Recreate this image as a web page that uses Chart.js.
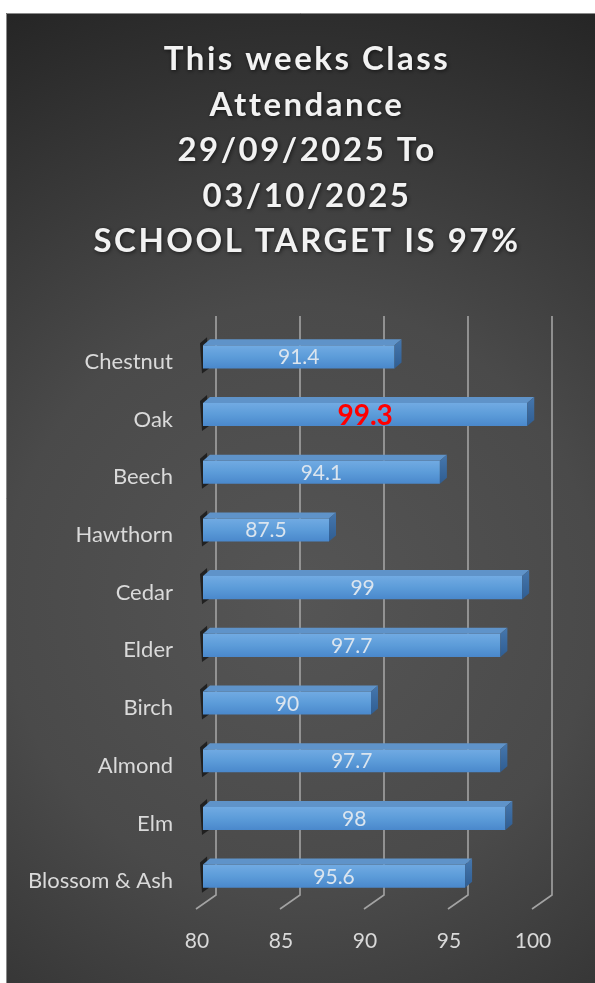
<!DOCTYPE html>
<html>
<head>
<meta charset="utf-8">
<title>Class Attendance</title>
<script src="https://cdn.jsdelivr.net/npm/chart.js@4.4.1/dist/chart.umd.min.js"></script>
<style>
  html, body { margin: 0; padding: 0; background: #ffffff; }
  #wrap { width: 595px; height: 983px; }
</style>
</head>
<body>
<div id="wrap"><canvas id="attendance-chart" width="595" height="983"></canvas></div>
<script>
// Chart data
const classes = ['Chestnut', 'Oak', 'Beech', 'Hawthorn', 'Cedar', 'Elder', 'Birch', 'Almond', 'Elm', 'Blossom & Ash'];
const attendance = [91.4, 99.3, 94.1, 87.5, 99, 97.7, 90, 97.7, 98, 95.6];
const axisTicks = [80, 85, 90, 95, 100];
const titleLines = ['This weeks Class', 'Attendance', '29/09/2025 To', '03/10/2025', 'SCHOOL TARGET IS 97%'];
const topClass = 'Oak';

// 3D look: bar depth and the floor/back wall offsets of the grid
const BAR_DX = 7, BAR_DY = 6;
const GRID_BACK = 13, GRID_DX = 20, GRID_DY = 14;

function frontFill(context) {
  const chart = context.chart;
  const yScale = chart.scales.y;
  if (!yScale || !chart.chartArea) return '#5b9bd5';
  const cy = yScale.getPixelForValue(context.dataIndex);
  const g = chart.ctx.createLinearGradient(0, cy - 12, 0, cy + 12);
  g.addColorStop(0, '#72abe3');
  g.addColorStop(0.5, '#5c9cd9');
  g.addColorStop(1, '#4987cb');
  return g;
}

// bar geometry, with the base clamped to the axis start (80)
function barBox(chart, bar) {
  const { x, y, base, height } = bar.getProps(['x', 'y', 'base', 'height'], true);
  const left = Math.max(base, chart.chartArea.left);
  return { x, y, left, top: y - height / 2, bottom: y + height / 2 };
}

const backgroundPlugin = {
  id: 'panelBackground',
  beforeDraw(chart) {
    const { ctx, width, height } = chart;
    ctx.save();
    ctx.fillStyle = '#ffffff';
    ctx.fillRect(0, 0, width, height);
    const g = ctx.createRadialGradient(300, 600, 0, 300, 600, 660);
    g.addColorStop(0, '#555555');
    g.addColorStop(0.45, '#4a4a4a');
    g.addColorStop(1, '#252525');
    ctx.fillStyle = g;
    ctx.fillRect(6, 13, width - 6, height - 13);
    ctx.strokeStyle = '#8a8a8a';
    ctx.lineWidth = 1;
    ctx.beginPath();
    ctx.moveTo(6.5, height);
    ctx.lineTo(6.5, 13.5);
    ctx.lineTo(width, 13.5);
    ctx.stroke();

    // title
    ctx.font = 'bold 33px Lato';
    ctx.letterSpacing = '2.5px';
    ctx.fillStyle = '#f2f2f2';
    ctx.textAlign = 'center';
    ctx.textBaseline = 'alphabetic';
    ctx.shadowColor = 'rgba(0,0,0,0.65)';
    ctx.shadowBlur = 4;
    ctx.shadowOffsetX = 1;
    ctx.shadowOffsetY = 1;
    titleLines.forEach((line, i) => {
      ctx.fillText(line, 307, 70 + i * 45.5);
    });
    ctx.restore();
  }
};

const gridPlugin = {
  id: 'depthGrid',
  beforeDatasetsDraw(chart) {
    const { ctx, chartArea } = chart;
    const xScale = chart.scales.x;
    ctx.save();
    ctx.strokeStyle = '#a3a3a3';
    ctx.lineWidth = 1.6;
    xScale.ticks.forEach(t => {
      const xb = xScale.getPixelForValue(t.value) + GRID_BACK;
      ctx.beginPath();
      ctx.moveTo(xb, chartArea.top - 12);
      ctx.lineTo(xb, chartArea.bottom - 10);
      ctx.lineTo(xb - GRID_DX, chartArea.bottom - 10 + GRID_DY);
      ctx.stroke();
    });
    // shadow behind the left end of each bar
    const meta = chart.getDatasetMeta(0);
    ctx.fillStyle = 'rgba(18,18,18,0.75)';
    meta.data.forEach(bar => {
      const { left, top, bottom } = barBox(chart, bar);
      ctx.beginPath();
      ctx.moveTo(left - 3, top - 2);
      ctx.lineTo(left + 4, top - BAR_DY - 2);
      ctx.lineTo(left + 6, bottom);
      ctx.lineTo(left - 1, bottom + 5);
      ctx.closePath();
      ctx.fill();
    });
    ctx.restore();
  }
};

const bar3dPlugin = {
  id: 'bar3d',
  afterDatasetsDraw(chart) {
    const { ctx } = chart;
    const meta = chart.getDatasetMeta(0);
    ctx.save();
    meta.data.forEach((bar, i) => {
      const { x, y, left, top, bottom } = barBox(chart, bar);
      // top face
      ctx.fillStyle = '#5f93c9';
      ctx.beginPath();
      ctx.moveTo(left, top);
      ctx.lineTo(x, top);
      ctx.lineTo(x + BAR_DX, top - BAR_DY);
      ctx.lineTo(left + BAR_DX, top - BAR_DY);
      ctx.closePath();
      ctx.fill();
      // side face
      const sg = ctx.createLinearGradient(0, top - BAR_DY, 0, bottom);
      sg.addColorStop(0, '#4677ad');
      sg.addColorStop(1, '#2f5d92');
      ctx.fillStyle = sg;
      ctx.beginPath();
      ctx.moveTo(x, top);
      ctx.lineTo(x + BAR_DX, top - BAR_DY);
      ctx.lineTo(x + BAR_DX, bottom - BAR_DY);
      ctx.lineTo(x, bottom);
      ctx.closePath();
      ctx.fill();

      // value label
      const cx = (left + x) / 2;
      ctx.textAlign = 'center';
      ctx.textBaseline = 'alphabetic';
      if (classes[i] === topClass) {
        ctx.font = 'bold 28px Lato';
        ctx.fillStyle = '#ff0000';
        ctx.fillText(String(attendance[i]), cx, y + 10);
      } else {
        ctx.font = '21px Lato';
        ctx.fillStyle = '#dbe5ef';
        ctx.fillText(String(attendance[i]), cx, y + 7.5);
      }
    });
    ctx.restore();
  }
};

const ctx = document.getElementById('attendance-chart').getContext('2d');

new Chart(ctx, {
  type: 'bar',
  data: {
    labels: classes,
    datasets: [{
      data: attendance,
      backgroundColor: frontFill,
      borderWidth: 0,
      categoryPercentage: 1,
      barPercentage: 0.4
    }]
  },
  options: {
    indexAxis: 'y',
    responsive: false,
    animation: false,
    layout: { padding: { top: 328, right: 56, left: 0, bottom: 0 } },
    plugins: {
      legend: { display: false },
      title: { display: false },
      tooltip: { enabled: false }
    },
    scales: {
      x: {
        min: 80,
        max: 100,
        afterBuildTicks: scale => { scale.ticks = axisTicks.map(v => ({ value: v })); },
        afterFit: scale => { scale.height = 78; },
        grid: { display: false, drawTicks: false },
        border: { display: false },
        ticks: {
          color: '#d9d9d9',
          font: { family: 'Lato', size: 21 },
          padding: 24,
          labelOffset: -6,
          autoSkip: false,
          maxRotation: 0
        }
      },
      y: {
        afterFit: scale => { scale.width = 203; },
        grid: { display: false, drawTicks: false },
        border: { display: false },
        ticks: {
          color: '#dadada',
          font: { family: 'Lato', size: 22 },
          padding: 30,
          labelOffset: 5,
          autoSkip: false
        }
      }
    }
  },
  plugins: [backgroundPlugin, gridPlugin, bar3dPlugin]
});
</script>
</body>
</html>
